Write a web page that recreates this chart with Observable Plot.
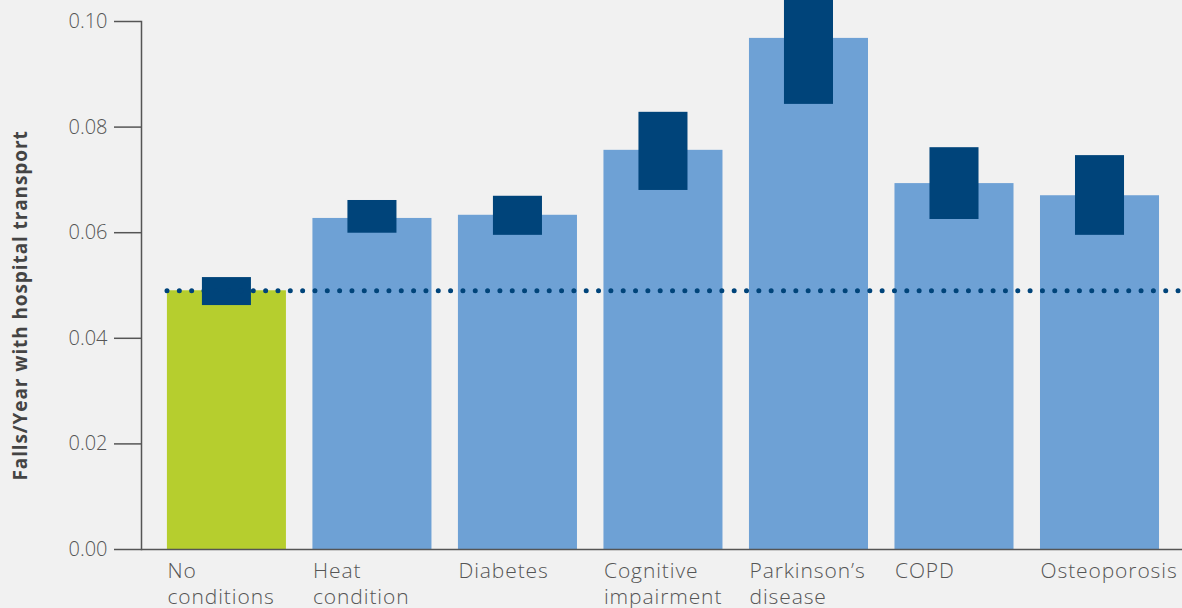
<!DOCTYPE html>
<html>
<head>
<meta charset="utf-8">
<script src="https://cdn.jsdelivr.net/npm/d3@7"></script>
<script src="https://cdn.jsdelivr.net/npm/@observablehq/plot@0.6"></script>
<style>
  html, body { margin: 0; padding: 0; background: #f1f1f1; }
  #chart svg { display: block; overflow: visible; }
  #chart g[aria-label="x-axis tick label"] text { letter-spacing: 0.9px; }
  #chart g[aria-label="text"] text { letter-spacing: 0.9px; }
</style>
</head>
<body>
<div id="chart"></div>
<script>
const categories = ["No conditions", "Heat condition", "Diabetes", "Cognitive impairment", "Parkinson’s disease", "COPD", "Osteoporosis"];
const tickLabels = ["No\nconditions", "Heat\ncondition", "Diabetes", "Cognitive\nimpairment", "Parkinson’s\ndisease", "COPD", "Osteoporosis"];
const rates = [0.0490, 0.0627, 0.0633, 0.0756, 0.0968, 0.0693, 0.0670];
const lower = [0.0462, 0.0599, 0.0595, 0.0680, 0.0843, 0.0625, 0.0595];
const upper = [0.0515, 0.0661, 0.0669, 0.0828, 0.1060, 0.0761, 0.0746];
const baseline = 0.049;
const yTicks = [0, 0.02, 0.04, 0.06, 0.08, 0.10];
const yLabel = "Falls/Year with hospital transport";

const data = categories.map((c, i) => ({
  category: c,
  rate: rates[i],
  lo: lower[i],
  hi: upper[i],
  fill: i === 0 ? "#b6ce2e" : "#6ea1d5"
}));
const labelOf = new Map(categories.map((c, i) => [c, tickLabels[i]]));

const plot = Plot.plot({
  width: 1182,
  height: 608,
  marginTop: 21,
  marginBottom: 59,
  marginLeft: 141,
  marginRight: 0,
  style: { background: "#f1f1f1", fontFamily: "'Open Sans', Lato, sans-serif", color: "#555" },
  x: { domain: categories, paddingInner: 0.182, paddingOuter: 0.168, align: 0.53, round: false, label: null },
  y: { domain: [0, 0.1], label: null },
  marks: [
    Plot.barY(data, { x: "category", y: "rate", fill: "fill" }),
    Plot.barY(data, { x: "category", y1: "lo", y2: "hi", fill: "#00447a", insetLeft: 35, insetRight: 35 }),
    Plot.ruleY([baseline], { stroke: "#00447a", strokeWidth: 5, strokeDasharray: "0 12.33", strokeLinecap: "round", insetLeft: 26 }),
    Plot.ruleY([0], { stroke: "#555", strokeWidth: 1.5 }),
    Plot.frame({ anchor: "left", stroke: "#555", strokeWidth: 1.5 }),
    Plot.axisY({ ticks: yTicks, tickFormat: d3.format(".2f"), tickSize: 27, tickPadding: 7, fontSize: 20, stroke: "#555", strokeWidth: 1.5, fill: "#555", label: null, fontWeight: 300 }),
    Plot.axisX({ tickSize: 0, tickPadding: 11, tickFormat: d => labelOf.get(d), textAnchor: "start", dx: -59.5, fontSize: 21, lineHeight: 1.2, fill: "#555", label: null, fontWeight: 300 }),
    Plot.text([yLabel], { frameAnchor: "left", textAnchor: "middle", rotate: -90, dx: -121, dy: 20, fontSize: 19, fontWeight: "bold", fill: "#444", text: d => d })
  ]
});
document.getElementById("chart").appendChild(plot);
</script>
</body>
</html>
